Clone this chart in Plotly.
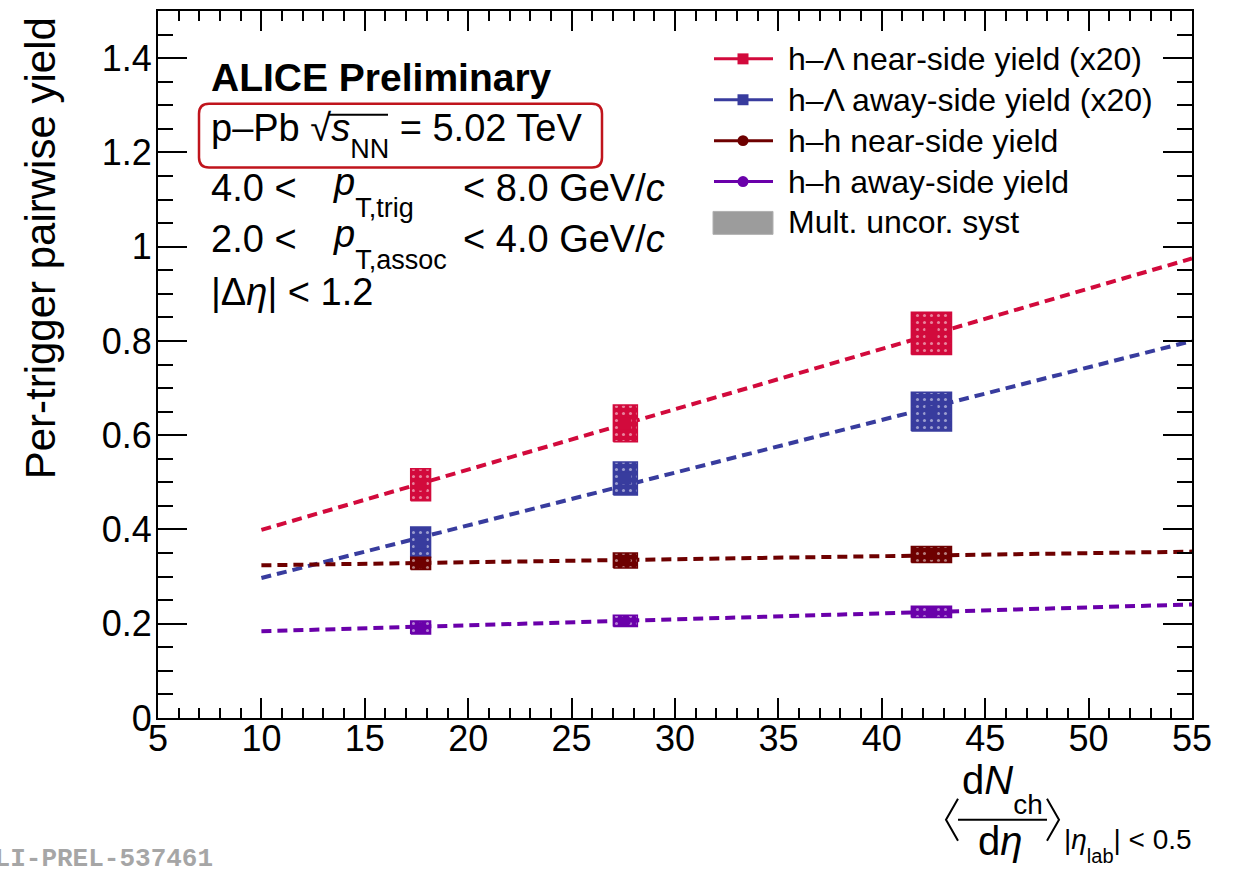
import plotly.graph_objects as go

# ---------------------------------------------------------------- data
dndeta = [17.7, 27.6, 42.4]                 # <dNch/deta>, |eta_lab| < 0.5
dndeta_halfwidth = [0.48, 0.58, 0.97]       # half width of the syst boxes

hL_near = [0.495, 0.625, 0.816]             # h-Lambda near-side yield (x20)
hL_near_syst = [0.034, 0.039, 0.045]
hL_away = [0.373, 0.508, 0.650]             # h-Lambda away-side yield (x20)
hL_away_syst = [0.032, 0.035, 0.041]
hh_near = [0.328, 0.334, 0.347]             # h-h near-side yield
hh_near_syst = [0.013, 0.016, 0.017]
hh_away = [0.192, 0.206, 0.225]             # h-h away-side yield
hh_away_syst = [0.014, 0.012, 0.012]

# straight-line fits, evaluated at the ends of the fit range
fit_x = [10, 55]
fit_hL_near = [0.399, 0.975]
fit_hL_away = [0.297, 0.800]
fit_hh_near = [0.324, 0.353]
fit_hh_away = [0.184, 0.241]

series_names = [
    "h–Λ near-side yield (x20)",
    "h–Λ away-side yield (x20)",
    "h–h near-side yield",
    "h–h away-side yield",
]
syst_name = "Mult. uncor. syst"

x_tickvals = [5, 10, 15, 20, 25, 30, 35, 40, 45, 50, 55]
y_tickvals = [0, 0.2, 0.4, 0.6, 0.8, 1.0, 1.2, 1.4]
y_ticktext = ["0", "0.2", "0.4", "0.6", "0.8", "1", "1.2", "1.4"]

# ---------------------------------------------------------------- style
RED = "#D20A3C"
BLUE = "#383C9E"
BROWN = "#6E0000"
PURPLE = "#6A00AA"
FONT = "Liberation Sans, Arial, Helvetica, sans-serif"

W, H = 1235, 869
L, R, T, B = 158, 1192, 9, 718   # plot frame in page pixels


def px(x):
    return (x - L) / (R - L)


def py(y):
    return (B - y) / (B - T)


def low_sub(s, size, shift):
    """Subscript: smaller text lowered below the baseline by `shift` px."""
    return f"<span style='font-size:{size}px;baseline-shift:-{shift}px'>{s}</span>"


series = [
    (hL_near, hL_near_syst, fit_hL_near, RED, "square", 12),
    (hL_away, hL_away_syst, fit_hL_away, BLUE, "square", 12),
    (hh_near, hh_near_syst, fit_hh_near, BROWN, "circle", 11),
    (hh_away, hh_away_syst, fit_hh_away, PURPLE, "circle", 11),
]

fig = go.Figure()

# dashed fit lines (underneath the boxes)
for vals, syst, fit, color, sym, size in series:
    fig.add_trace(go.Scatter(
        x=fit_x, y=fit, mode="lines",
        line=dict(color=color, width=4, dash="10px,6px"),
        showlegend=False, hoverinfo="skip"))

# systematic-uncertainty boxes
for vals, syst, fit, color, sym, size in series:
    bx, by = [], []
    for x, y, dx, dy in zip(dndeta, vals, dndeta_halfwidth, syst):
        bx += [x - dx, x + dx, x + dx, x - dx, x - dx, None]
        by += [y - dy, y - dy, y + dy, y + dy, y - dy, None]
    fig.add_trace(go.Scatter(
        x=bx, y=by, mode="lines", fill="toself", fillcolor=color,
        fillpattern=dict(shape=".", bgcolor=color, fgcolor="white",
                         size=7, solidity=0.15),
        line=dict(color=color, width=1.5),
        showlegend=False, hoverinfo="skip"))

# data points
for (vals, syst, fit, color, sym, size), name in zip(series, series_names):
    fig.add_trace(go.Scatter(
        x=dndeta, y=vals, mode="markers", name=name,
        marker=dict(symbol=sym, size=size, color=color),
        showlegend=False))

axis_common = dict(
    showline=True, linecolor="black", linewidth=2, mirror="ticks",
    ticks="inside", tickcolor="black", tickwidth=2,
    showgrid=False, zeroline=False,
    tickfont=dict(family=FONT, size=36, color="black"),
)

fig.update_xaxes(
    range=[5, 55], tickvals=x_tickvals, ticklen=20,
    minor=dict(dtick=1, ticklen=10, tickwidth=2, tickcolor="black", ticks="inside"),
    ticklabelstandoff=-12,
    **axis_common)
fig.update_yaxes(
    range=[0, 1.5], tickvals=y_tickvals, ticktext=y_ticktext, ticklen=29,
    minor=dict(dtick=0.05, tick0=0, ticklen=15, tickwidth=2, tickcolor="black", ticks="inside"),
    ticklabelstandoff=-3,
    **axis_common)

ann = []
shapes = []


def text(x, y, s, size, anchor="left", color="black", family=FONT, angle=0):
    ann.append(dict(
        x=px(x), y=py(y), xref="paper", yref="paper", text=s,
        showarrow=False, xanchor=anchor, yanchor="middle", textangle=angle,
        font=dict(family=family, size=size, color=color)))


def seg(x0, y0, x1, y1, color="black", width=2):
    shapes.append(dict(type="line", xref="paper", yref="paper",
                       x0=px(x0), y0=py(y0), x1=px(x1), y1=py(y1),
                       line=dict(color=color, width=width)))


# y-axis title
text(40, 247, "Per-trigger pairwise yield", 42, anchor="center", angle=-90)

# x-axis title: < dN_ch / deta >_{|eta_lab| < 0.5}
text(960, 789, "d<i>N</i>" + low_sub("ch", 28, 20), 40)
seg(958, 820, 1047, 820)
text(976, 841, "d<i>η</i>", 40)
shapes.append(dict(type="path", xref="paper", yref="paper",
                   path=f"M{px(958)},{py(799)} L{px(946)},{py(820)} L{px(958)},{py(841)}",
                   line=dict(color="black", width=2)))
shapes.append(dict(type="path", xref="paper", yref="paper",
                   path=f"M{px(1047)},{py(799)} L{px(1059)},{py(820)} L{px(1047)},{py(841)}",
                   line=dict(color="black", width=2)))
text(1062, 846, "|<i>η</i>" + low_sub("lab", 20, 14) + "| < 0.5", 28)

# collision system and kinematic selection
text(209, 76, "<b>ALICE Preliminary</b>", 39)
text(209, 134, "p–Pb √<i>s</i>" + low_sub("NN", 27, 17) + " = 5.02 TeV", 38)
seg(328, 113, 388, 113, width=2)

# rounded red frame around the energy label
x0, x1, y0, y1, r = px(199), px(602), py(102), py(166), 10
rx, ry = r / (R - L), r / (B - T)
shapes.append(dict(
    type="path", xref="paper", yref="paper",
    path=(f"M{x0 + rx},{y0} L{x1 - rx},{y0} Q{x1},{y0} {x1},{y0 - ry} "
          f"L{x1},{y1 + ry} Q{x1},{y1} {x1 - rx},{y1} L{x0 + rx},{y1} "
          f"Q{x0},{y1} {x0},{y1 + ry} L{x0},{y0 - ry} Q{x0},{y0} {x0 + rx},{y0} Z"),
    line=dict(color="#C0141C", width=2.5)))

text(209, 186, "4.0 <", 38)
text(331, 191, "<i>p</i>" + low_sub("T,trig", 27, 22), 38)
text(461, 186, "< 8.0 GeV/<i>c</i>", 38)
text(209, 238, "2.0 <", 38)
text(331, 243, "<i>p</i>" + low_sub("T,assoc", 27, 22), 38)
text(461, 238, "< 4.0 GeV/<i>c</i>", 38)
text(209, 291, "|Δ<i>η</i>| < 1.2", 38)

# legend
legend_rows = [57, 98, 139, 180]
for (vals, syst, fit, color, sym, size), name, yy in zip(series, series_names, legend_rows):
    seg(714, yy, 773, yy, color=color, width=3)
    h = 5.5
    shapes.append(dict(type="rect" if sym == "square" else "circle",
                       xref="paper", yref="paper",
                       x0=px(743 - h), x1=px(743 + h), y0=py(yy - h), y1=py(yy + h),
                       fillcolor=color, line=dict(color=color, width=0)))
    text(786, yy, name, 32)
shapes.append(dict(type="rect", xref="paper", yref="paper",
                   x0=px(713), x1=px(773), y0=py(210), y1=py(233),
                   fillcolor="#9C9C9C", line=dict(color="#B0B0B0", width=1)))
text(786, 221, syst_name, 32)

# preliminary figure identifier
text(215, 859, "<b>ALI-PREL-537461</b>", 26, anchor="right",
     color="#A6A6A6", family="Liberation Mono, Courier New, monospace")

fig.update_layout(
    width=W, height=H, autosize=False,
    margin=dict(l=L, r=W - R, t=T, b=H - B, pad=0),
    plot_bgcolor="white", paper_bgcolor="white",
    showlegend=False,
    annotations=ann, shapes=shapes,
    font=dict(family=FONT, color="black"),
)

fig.write_html("out.html")
